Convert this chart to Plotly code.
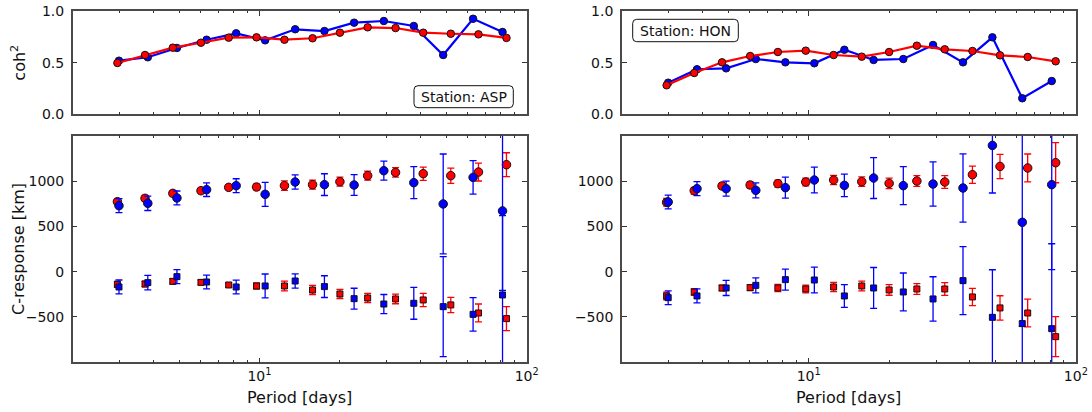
import plotly.graph_objects as go

# ---- data -------------------------------------------------------------
# periods (days) of the two estimates
period_b = [2.98, 3.82, 4.91, 6.34, 8.18, 10.5, 13.6, 17.5, 22.6, 29.2, 37.8, 48.7, 63.0, 81.2]
period_r = [2.94, 3.73, 4.74, 6.04, 7.67, 9.75, 12.4, 15.8, 20.0, 25.4, 32.3, 41.0, 52.0, 66.0, 84.0]

# station ASP
asp_coh_b = [0.519, 0.552, 0.642, 0.722, 0.784, 0.716, 0.823, 0.806, 0.887, 0.903, 0.855, 0.574, 0.925, 0.797]
asp_coh_r = [0.497, 0.574, 0.645, 0.693, 0.742, 0.745, 0.722, 0.736, 0.790, 0.842, 0.835, 0.790, 0.780, 0.774, 0.739]
asp_re_b = [728, 754, 813, 904, 949, 853, 989, 960, 956, 1114, 982, 747, 1040, 670]
asp_im_b = [-169, -121, -55, -114, -169, -158, -103, -165, -298, -357, -349, -386, -471, -257]
asp_err_b = [77, 79, 77, 75, 76, 132, 78, 120, 115, 105, 176, 551, 185, 876]
asp_re_r = [772, 809, 864, 893, 930, 934, 949, 960, 993, 1059, 1095, 1081, 1059, 1099, 1180]
asp_im_r = [-140, -136, -107, -118, -147, -158, -158, -202, -246, -290, -301, -312, -367, -456, -518]
asp_err_r = [33, 31, 29, 27, 27, 35, 53, 50, 50, 50, 53, 73, 84, 99, 132]

# station HON
hon_coh_b = [0.306, 0.436, 0.445, 0.535, 0.503, 0.494, 0.625, 0.526, 0.535, 0.671, 0.503, 0.745, 0.155, 0.322]
hon_coh_r = [0.281, 0.400, 0.503, 0.564, 0.603, 0.616, 0.574, 0.558, 0.603, 0.664, 0.629, 0.613, 0.571, 0.555, 0.513]
hon_re_b = [769, 916, 916, 897, 927, 1011, 952, 1033, 949, 967, 923, 1393, 544, 960]
hon_im_b = [-287, -268, -180, -151, -88, -92, -268, -180, -224, -301, -99, -504, -573, -629]
hon_err_b = [76, 77, 83, 83, 115, 142, 125, 226, 209, 245, 376, 525, 1147, 937]
hon_re_r = [765, 893, 945, 956, 971, 989, 1011, 993, 974, 1000, 989, 1070, 1161, 1144, 1202]
hon_im_r = [-268, -224, -180, -176, -180, -191, -169, -158, -202, -191, -191, -279, -400, -456, -717]
hon_err_r = [42, 37, 31, 33, 39, 42, 51, 53, 58, 60, 70, 95, 134, 154, 221]

stations = ["ASP", "HON"]
x_label = "Period [days]"
coh_label = "coh<sup>2</sup>"
c_label = "C-response [km]"

# ---- layout helpers ---------------------------------------------------
W, H = 1092, 412
BLUE, RED = "#0000ff", "#ff0000"
FONT = "DejaVu Sans"
FRAME = "#4a4a4a"
TICK = "#333333"


def px(x):
    return x / W


def py(y):
    return 1 - y / H


col_x = [(72.7, 526.7), (621.9, 1075.9)]
top_y = (11.0, 114.3)
bot_y = (135.7, 362.3)

minor_vals = [3, 4, 5, 6, 7, 8, 9, 20, 30, 40, 50, 60, 70, 80, 90]

fig = go.Figure()


def xaxis_cfg(domain, anchor, labels):
    cfg = dict(
        type="log", range=[0.30103, 2], domain=domain, anchor=anchor, automargin=False,
        showgrid=False, zeroline=False, showline=True, linecolor=FRAME, linewidth=1.5,
        mirror="ticks", ticks="inside", ticklen=5, tickwidth=1, tickcolor=TICK,
        tickvals=[10, 100], showticklabels=labels,
        tickfont=dict(family=FONT, size=14, color="#111"),
        minor=dict(tickvals=minor_vals, ticks="inside", ticklen=2.5, tickwidth=1,
                   tickcolor=TICK, showgrid=False),
    )
    if labels:
        cfg["ticktext"] = ["10<sup>1</sup>", "10<sup>2</sup>"]
    return cfg


def yaxis_cfg(domain, anchor, rng, vals, text):
    return dict(
        range=rng, domain=domain, anchor=anchor, automargin=False,
        showgrid=False, zeroline=False, showline=True, linecolor=FRAME, linewidth=1.5,
        mirror="ticks", ticks="inside", ticklen=5, tickwidth=1, tickcolor=TICK,
        tickvals=vals, ticktext=text,
        tickfont=dict(family=FONT, size=14, color="#111"),
        ticklabelstandoff=4,
    )


layout = {}
datasets = [
    (asp_coh_b, asp_coh_r, asp_re_b, asp_im_b, asp_err_b, asp_re_r, asp_im_r, asp_err_r),
    (hon_coh_b, hon_coh_r, hon_re_b, hon_im_b, hon_err_b, hon_re_r, hon_im_r, hon_err_r),
]

for c, (coh_b, coh_r, re_b, im_b, err_b, re_r, im_r, err_r) in enumerate(datasets):
    xd = [px(col_x[c][0]), px(col_x[c][1])]
    top_dom = [py(top_y[1]), py(top_y[0])]
    bot_dom = [py(bot_y[1]), py(bot_y[0])]
    ti = 2 * c + 1   # top axes index
    bi = 2 * c + 2   # bottom axes index
    tx, ty = f"x{ti}", f"y{ti}"
    bx, by = f"x{bi}", f"y{bi}"
    layout[f"xaxis{ti}"] = xaxis_cfg(xd, ty, False)
    layout[f"yaxis{ti}"] = yaxis_cfg(top_dom, tx, [0, 1], [0, 0.5, 1], ["0.0", "0.5", "1.0"])
    layout[f"xaxis{bi}"] = xaxis_cfg(xd, by, True)
    layout[f"yaxis{bi}"] = yaxis_cfg(bot_dom, bx, [-1000, 1500], [-500, 0, 500, 1000],
                                     ["\u2212500", "0", "500", "1000"])

    # coherence
    for per, vals, colr in ((period_b, coh_b, BLUE), (period_r, coh_r, RED)):
        fig.add_trace(go.Scatter(
            x=per, y=vals, mode="lines+markers", xaxis=tx, yaxis=ty,
            line=dict(color=colr, width=2.2),
            marker=dict(color=colr, size=7.5, line=dict(color="#111", width=1)),
            showlegend=False, cliponaxis=False))

    # C-response: red first, blue on top
    for per, re, im, err, colr in ((period_r, re_r, im_r, err_r, RED),
                                   (period_b, re_b, im_b, err_b, BLUE)):
        for vals, sym, sz in ((re, "circle", 8.5), (im, "square", 6)):
            fig.add_trace(go.Scatter(
                x=per, y=vals, mode="markers", xaxis=bx, yaxis=by,
                error_y=dict(type="data", array=err, visible=True, color=colr,
                             thickness=1.3, width=3.5),
                marker=dict(color=colr, symbol=sym, size=sz, line=dict(color="#111", width=1)),
                showlegend=False))

# station boxes with rounded corners
boxes = [(414.0, 85.7, 513.3, 107.7), (632.7, 19.3, 738.3, 41.7)]
shapes = []
annotations = []
r = 4.0
for (x0, y0, x1, y1), name in zip(boxes, stations):
    path = (f"M {px(x0 + r)},{py(y0)} L {px(x1 - r)},{py(y0)} "
            f"Q {px(x1)},{py(y0)} {px(x1)},{py(y0 + r)} L {px(x1)},{py(y1 - r)} "
            f"Q {px(x1)},{py(y1)} {px(x1 - r)},{py(y1)} L {px(x0 + r)},{py(y1)} "
            f"Q {px(x0)},{py(y1)} {px(x0)},{py(y1 - r)} L {px(x0)},{py(y0 + r)} "
            f"Q {px(x0)},{py(y0)} {px(x0 + r)},{py(y0)} Z")
    shapes.append(dict(type="path", path=path, xref="paper", yref="paper",
                       line=dict(color="#111", width=1), fillcolor="white", layer="above"))
    annotations.append(dict(text=f"Station: {name}", x=px((x0 + x1) / 2), y=py((y0 + y1) / 2),
                            xref="paper", yref="paper", showarrow=False,
                            xanchor="center", yanchor="middle",
                            font=dict(family=FONT, size=14, color="#111")))

# axis titles
for c in range(2):
    cx = (col_x[c][0] + col_x[c][1]) / 2
    annotations.append(dict(text=x_label, x=px(cx), y=py(397), xref="paper", yref="paper",
                            showarrow=False, xanchor="center", yanchor="middle",
                            font=dict(family=FONT, size=16, color="#111")))
annotations.append(dict(text=coh_label, x=px(19), y=py((top_y[0] + top_y[1]) / 2),
                        xref="paper", yref="paper", showarrow=False, textangle=-90,
                        xanchor="center", yanchor="middle",
                        font=dict(family=FONT, size=16, color="#111")))
annotations.append(dict(text=c_label, x=px(19), y=py((bot_y[0] + bot_y[1]) / 2),
                        xref="paper", yref="paper", showarrow=False, textangle=-90,
                        xanchor="center", yanchor="middle",
                        font=dict(family=FONT, size=16, color="#111")))

fig.update_layout(
    width=W, height=H, margin=dict(l=0, r=0, t=0, b=0, autoexpand=False),
    paper_bgcolor="white", plot_bgcolor="white",
    shapes=shapes, annotations=annotations, **layout,
)

fig.write_html("out.html")
